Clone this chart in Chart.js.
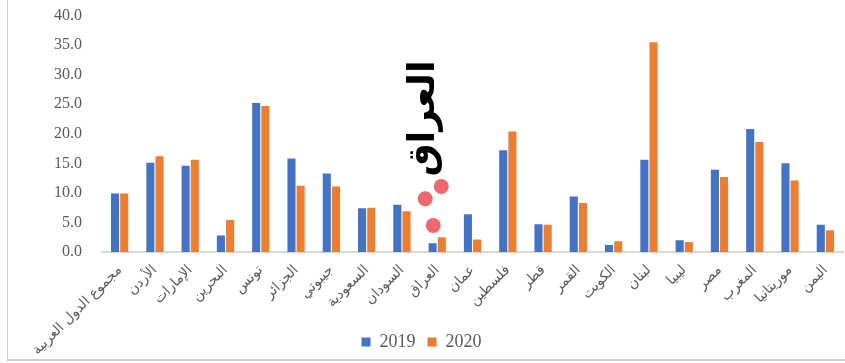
<!DOCTYPE html>
<html>
<head>
<meta charset="utf-8">
<script src="https://cdn.jsdelivr.net/npm/chart.js@4.4.1/dist/chart.umd.min.js"></script>
<style>
  body { margin: 0; background: #fff; overflow: hidden; }
  #wrap { position: relative; width: 845px; height: 363px; overflow: hidden; }
  #frame { position: absolute; left: 7px; top: 0; width: 838px; height: 361px;
           border-left: 1px solid #d0d0d0; border-bottom: 2px solid #d0d0d0; box-sizing: border-box; }
  canvas { position: absolute; left: 0; top: -6px; }
</style>
</head>
<body>
<div id="wrap">
  <div id="frame"></div>
  <canvas id="chart" width="845" height="369"></canvas>
</div>
<script>
// data
const countries = [
    'مجموع الدول العربية', 'الأردن', 'الإمارات', 'البحرين', 'تونس', 'الجزائر', 'جيبوتي',
    'السعودية', 'السودان', 'العراق', 'عمان', 'فلسطين', 'قطر', 'القمر', 'الكويت',
    'لبنان', 'ليبيا', 'مصر', 'المغرب', 'موريتانيا', 'اليمن'
]
const values2019 = [9.9, 15.1, 14.6, 2.8, 25.2, 15.8, 13.3, 7.4, 8.0, 1.5, 6.4, 17.2, 4.7, 9.4, 1.2, 15.6, 2.0, 13.9, 20.8, 15.0, 4.6]
const values2020 = [9.9, 16.2, 15.6, 5.4, 24.7, 11.2, 11.1, 7.5, 6.9, 2.5, 2.1, 20.4, 4.6, 8.3, 1.8, 35.5, 1.7, 12.7, 18.6, 12.1, 3.7]
const yTicks = [0, 5, 10, 15, 20, 25, 30, 35, 40]

// annotation over the Iraq bars
const noteText = 'العراق'
const noteCategory = 9
const noteDots = [[4, 11.1], [-12, 9.0], [-4, 4.5]]   // [px offset from category, value]

const grey = '#595959'

const notePlugin = {
    id: 'note',
    beforeDraw(chart) {
        // let the long rotated labels run past the axis box
        chart.scales.x._computeLabelArea = () => undefined
    },
    afterDatasetsDraw(chart) {
        const ctx = chart.ctx
        const xs = chart.scales.x, ys = chart.scales.y
        const cx = xs.getPixelForValue(noteCategory)
        ctx.save()
        ctx.fillStyle = 'rgba(236, 78, 84, 0.85)'
        noteDots.forEach(d => {
            ctx.beginPath()
            ctx.arc(cx + d[0], ys.getPixelForValue(d[1]), 7.5, 0, Math.PI * 2)
            ctx.fill()
        })
        ctx.translate(cx - 13, ys.getPixelForValue(22.6))
        ctx.rotate(-Math.PI / 2)
        ctx.fillStyle = '#000'
        ctx.font = 'bold 37px "DejaVu Sans"'
        ctx.textAlign = 'center'
        ctx.textBaseline = 'middle'
        ctx.fillText(noteText, 0, 0)
        ctx.restore()
    }
}

const ctx = document.getElementById('chart').getContext('2d')
const chart = new Chart(ctx, {
    type: 'bar',
    data: {
        labels: countries,
        datasets: [{
            label: '2019',
            data: values2019,
            backgroundColor: '#4472C4',
            categoryPercentage: 0.52,
            barPercentage: 0.88
        }, {
            label: '2020',
            data: values2020,
            backgroundColor: '#ED7D31',
            categoryPercentage: 0.52,
            barPercentage: 0.88
        }]
    },
    options: {
        responsive: false,
        animation: false,
        layout: { padding: { top: 8, right: 2, bottom: 2, left: 0 } },
        scales: {
            x: {
                grid: { display: false },
                border: { color: '#D9D9D9', width: 2 },
                ticks: {
                    color: grey,
                    font: { family: 'DejaVu Sans', size: 14 },
                    minRotation: 45,
                    maxRotation: 45,
                    autoSkip: false,
                    padding: 2
                },
                afterFit(scale) { scale.height = 69 }
            },
            y: {
                min: 0,
                max: 40,
                grid: { display: false },
                border: { display: false },
                afterBuildTicks(scale) { scale.ticks = yTicks.map(v => ({ value: v })) },
                ticks: {
                    color: grey,
                    font: { family: 'Liberation Serif', size: 16 },
                    padding: 12,
                    callback: v => v.toFixed(1)
                },
                afterFit(scale) { scale.width = 102 }
            }
        },
        plugins: {
            legend: {
                position: 'bottom',
                labels: {
                    color: grey,
                    font: { family: 'Liberation Serif', size: 18 },
                    boxWidth: 9,
                    boxHeight: 9,
                    padding: 12
                }
            },
            tooltip: { enabled: false }
        }
    },
    plugins: [notePlugin]
})
</script>
</body>
</html>
